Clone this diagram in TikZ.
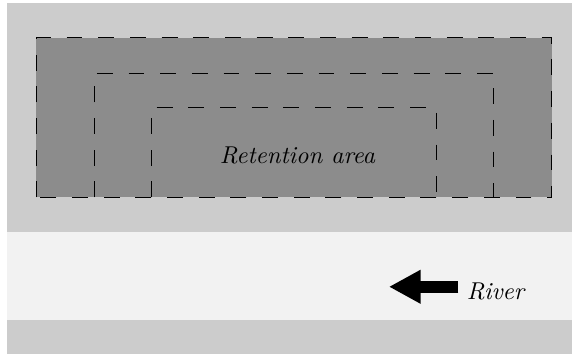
\documentclass[tikz,border=0pt]{standalone}
\usetikzlibrary{arrows.meta}

\begin{document}
\begin{tikzpicture}[>={Triangle[length=13pt,width=13pt]},
    wall/.style={dash pattern=on 6.5pt off 6.5pt}]
  \useasboundingbox (0,0) rectangle (8.25,5.106);
  \fill[black!20] (0.1,0) rectangle (8.25,5.06);
  \fill[black!5] (0.1,0.49) rectangle (8.25,1.76);
  % retention basin with its inner dykes
  \fill[black!45] (0.52,2.26) rectangle (7.96,4.56);
  \draw[wall] (0.52,2.26) rectangle (7.96,4.56);
  \draw[wall] (1.36,2.26) -- (1.36,4.05) -- (7.12,4.05) -- (7.12,2.26);
  \draw[wall] (2.18,2.26) -- (2.18,3.55) -- (6.30,3.55) -- (6.30,2.26);
  \node (area) at (4.29,2.87) {\itshape Retention area};
  % flow direction
  \coordinate (flow) at (5.61,0.97);
  \node[anchor=west] (river) at (6.61,0.90) {\itshape River};
  \draw[->, line width=5pt] (river.west |- flow) -- (flow);
\end{tikzpicture}
\end{document}
